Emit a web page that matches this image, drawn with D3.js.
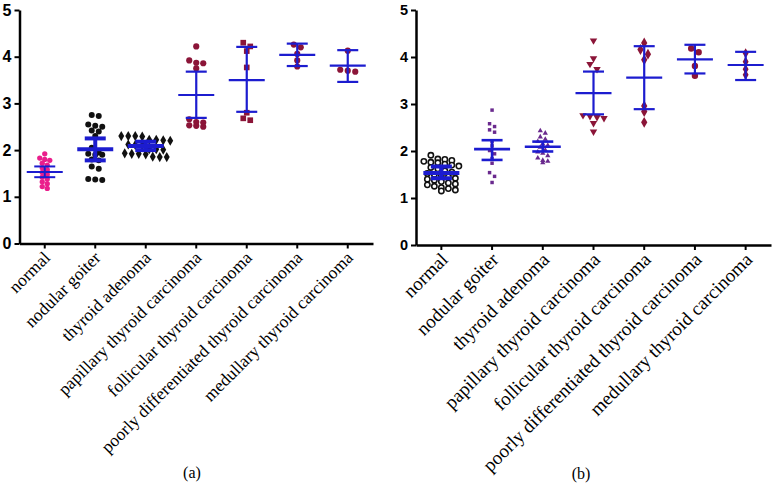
<!DOCTYPE html>
<html><head><meta charset="utf-8">
<script src="https://cdnjs.cloudflare.com/ajax/libs/d3/7.8.5/d3.min.js"></script>
<style>
html,body{margin:0;padding:0;background:#fff;}
svg{display:block;}
.serif{font-family:"Liberation Serif","Times New Roman","DejaVu Serif",serif;}
.sansb{font-family:"Liberation Sans",Arial,sans-serif;font-weight:bold;}
</style></head>
<body>
<svg id="chart" width="774" height="486"></svg>
<script>
// ---------------- data ----------------
const categories = ["normal","nodular goiter","thyroid adenoma","papillary thyroid carcinoma","follicular thyroid carcinoma","poorly differentiated thyroid carcinoma","medullary thyroid carcinoma"];
const yTicks = [0,1,2,3,4,5];
const panelLabels = ["(a)","(b)"];

// panel (a)
const aNormal     = [1.92,1.83,1.80,1.78,1.72,1.68,1.62,1.58,1.52,1.48,1.42,1.38,1.32,1.28,1.22,1.18];
const aNodular    = [2.75,2.73,2.55,2.52,2.50,2.42,2.40,2.30,2.05,1.95,1.92,1.90,1.90,1.80,1.78,1.65,1.60,1.38,1.37,1.36];
const aAdenoma    = [2.30,2.30,2.30,2.29,2.22,2.22,2.21,2.20,2.12,2.11,2.10,2.02,2.02,2.01,1.93,1.92,1.92,1.91,1.86,1.85,1.85];
const aPapillary  = [4.22,3.92,3.87,3.86,3.75,2.66,2.60,2.59,2.53,2.52,2.50];
const aFollicular = [4.30,4.22,4.12,3.77,2.80,2.68,2.64];
const aPoorly     = [4.26,4.20,4.06,3.92,3.79];
const aMedullary  = [4.13,3.72,3.70,3.68];
const aMean = [1.53,2.02,2.09,3.18,3.50,4.04,3.81];
const aHigh = [1.65,2.25,2.18,3.68,4.21,4.28,4.14];
const aLow  = [1.42,1.78,2.00,2.69,2.82,3.80,3.46];

// panel (b)
const bNormal     = [1.91,1.83,1.82,1.80,1.78,1.76,1.75,1.72,1.70,1.68,1.65,1.62,1.58,1.55,1.52,1.50,1.48,1.45,1.42,1.40,1.38,1.35,1.32,1.30,1.28,1.25,1.22,1.20,1.17,1.15];
const bNodular    = [2.87,2.58,2.52,2.45,2.40,2.20,2.11,2.01,1.94,1.84,1.74,1.54,1.46,1.33];
const bAdenoma    = [2.43,2.38,2.30,2.25,2.20,2.15,2.12,2.08,2.02,1.98,1.95,1.90,1.85,1.80,1.78,1.75];
const bPapillary  = [4.35,3.97,3.85,3.74,2.76,2.74,2.72,2.70,2.59,2.41];
const bFollicular = [4.30,4.16,4.06,3.94,2.96,2.84,2.61];
const bPoorly     = [4.18,4.10,3.81,3.60];
const bMedullary  = [4.08,3.90,3.74,3.62];
const bMean = [1.53,2.04,2.09,3.23,3.56,3.95,3.83];
const bHigh = [1.67,2.23,2.20,3.69,4.23,4.26,4.11];
const bLow  = [1.42,1.81,1.99,2.78,2.89,3.65,3.51];

// ---------------- styles ----------------
const darkRed = "#8b1538", purple = "#6a2a8e", pink = "#ea1e8c", blue = "#1c1ccf";
const panels = [
  {
    groups:[aNormal,aNodular,aAdenoma,aPapillary,aFollicular,aPoorly,aMedullary],
    mean:aMean, high:aHigh, low:aLow,
    left:19.5, right:373, top:10, bottom:243.5,
    shapes:["circle","circle","diamond","circle","square","circle","circle"],
    colors:[pink,"#111","#111",darkRed,darkRed,darkRed,darkRed],
    sizes:[22,28,30,30,32,30,30],
    spacing:[5,7,7,7,7,7,7.5],
    barW:[2,4,4,2.2,2.2,2.2,2.2],
    tickFont:16, labelFont:17.5, labelShift:[2,11], caption:panelLabels[0], capX:192, capY:478
  },
  {
    groups:[bNormal,bNodular,bAdenoma,bPapillary,bFollicular,bPoorly,bMedullary],
    mean:bMean, high:bHigh, low:bLow,
    left:416, right:771, top:10, bottom:245,
    shapes:["circleOpen","square","triangle","triangleDown","diamond","circle","diamond"],
    colors:["#111",purple,purple,darkRed,darkRed,darkRed,darkRed],
    sizes:[22,12,12,24,34,32,30],
    spacing:[7,5,5,7,7.5,7.5,7.5],
    barW:[4,2.6,2.6,2.2,2.2,2.2,2.2],
    tickFont:14.5, labelFont:19, labelShift:[3,11], caption:panelLabels[1], capX:581, capY:479
  }
];

const svg = d3.select("#chart");
const symMap = {circle:d3.symbolCircle, circleOpen:d3.symbolCircle, square:d3.symbolSquare, diamond:d3.symbolDiamond, triangle:d3.symbolTriangle, triangleDown:d3.symbolTriangle};

panels.forEach(p => {
  const g = svg.append("g");
  const x = d3.scaleBand().domain(categories).range([p.left, p.right]).paddingInner(0).paddingOuter(0);
  const y = d3.scaleLinear().domain([0,5]).range([p.bottom, p.top]);
  const cx = c => x(c) + x.bandwidth()/2;

  // y axis
  const yAx = g.append("g").attr("transform", `translate(${p.left},0)`)
    .call(d3.axisLeft(y).tickValues(yTicks).tickFormat(d3.format("d")).tickSize(5).tickSizeOuter(0).tickPadding(3));
  yAx.attr("font-family", null);
  yAx.select(".domain").attr("stroke","#000").attr("stroke-width",2.5);
  yAx.selectAll(".tick line").attr("stroke","#000").attr("stroke-width",2);
  yAx.selectAll(".tick text").attr("class","sansb").style("font-size",p.tickFont+"px").attr("fill","#000");

  // x axis
  const xAx = g.append("g").attr("transform", `translate(0,${p.bottom})`)
    .call(d3.axisBottom(x).tickSize(5).tickSizeOuter(0));
  xAx.attr("font-family", null);
  xAx.select(".domain").attr("stroke","#000").attr("stroke-width",2.5);
  xAx.selectAll(".tick line").attr("stroke","#000").attr("stroke-width",2);
  xAx.selectAll(".tick text")
    .attr("class","serif")
    .style("font-size",p.labelFont+"px").attr("fill","#000")
    .attr("text-anchor","end")
    .attr("x",0).attr("y",0).attr("dy","0.35em")
    .attr("transform",`translate(${p.labelShift[0]},${p.labelShift[1]}) rotate(-45)`);

  // points: binned rows, centred (scatter dot-plot layout)
  p.groups.forEach((vals, i) => {
    const c = categories[i];
    const sorted = vals.slice().sort((a,b)=>b-a);
    const rows = [];
    const binH = Math.max(4, p.spacing[i]*0.75);
    sorted.forEach(v => {
      const py = y(v);
      const last = rows[rows.length-1];
      if (last && py - last.y0 < binH) last.items.push(py);
      else rows.push({y0:py, items:[py]});
    });
    const placed = [];
    rows.forEach(row => {
      const n = row.items.length;
      row.items.forEach((py, j) => placed.push({x:(j-(n-1)/2)*p.spacing[i], y:py}));
    });
    const shape = p.shapes[i];
    g.append("g").selectAll("path").data(placed).join("path")
      .attr("d", d3.symbol().type(symMap[shape]).size(p.sizes[i]))
      .attr("transform", d => `translate(${cx(c)+d.x},${d.y})` + (shape==="triangleDown" ? " rotate(180)" : ""))
      .attr("fill", shape==="circleOpen" ? "#fff" : p.colors[i])
      .attr("stroke", shape==="circleOpen" ? p.colors[i] : "none")
      .attr("stroke-width", shape==="circleOpen" ? 1.6 : 0);
  });

  // error bars (mean with bounds)
  const eb = g.append("g").attr("stroke", blue).attr("fill","none");
  categories.forEach((c, i) => {
    const X = cx(c), w = p.barW[i];
    eb.append("line").attr("x1",X).attr("x2",X).attr("y1",y(p.high[i])).attr("y2",y(p.low[i])).attr("stroke-width",w);
    eb.append("line").attr("x1",X-18).attr("x2",X+18).attr("y1",y(p.mean[i])).attr("y2",y(p.mean[i])).attr("stroke-width",w);
    eb.append("line").attr("x1",X-10.5).attr("x2",X+10.5).attr("y1",y(p.high[i])).attr("y2",y(p.high[i])).attr("stroke-width",w);
    eb.append("line").attr("x1",X-10.5).attr("x2",X+10.5).attr("y1",y(p.low[i])).attr("y2",y(p.low[i])).attr("stroke-width",w);
  });

  // caption
  svg.append("text").attr("class","serif").attr("x",p.capX).attr("y",p.capY).attr("text-anchor","middle")
    .style("font-size","16px").attr("fill","#000")
    .text(p.caption);
});
</script>
</body></html>
